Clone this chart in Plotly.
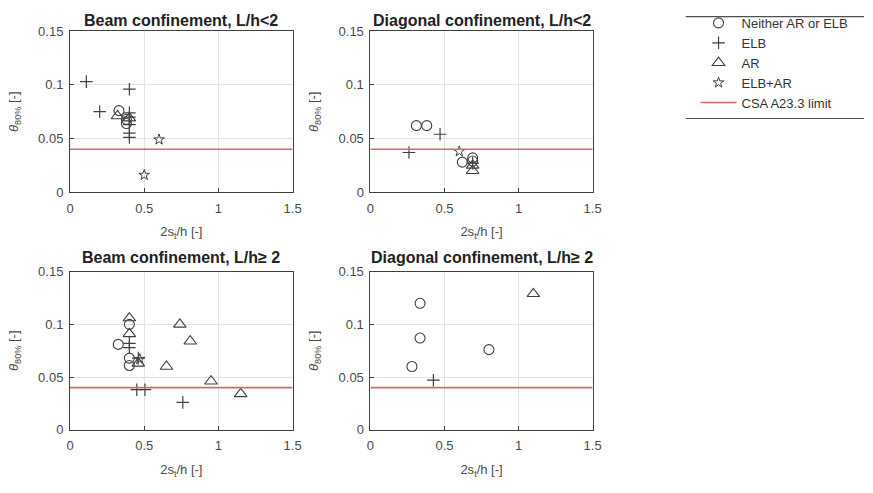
import plotly.graph_objects as go

# ---------------- data ----------------
# Panel 1: Beam confinement, L/h<2
p1_none_x = [0.33, 0.38, 0.38]
p1_none_y = [0.076, 0.064, 0.068]
p1_elb_x = [0.11, 0.20, 0.40, 0.40, 0.40, 0.40, 0.40, 0.40]
p1_elb_y = [0.103, 0.075, 0.096, 0.074, 0.070, 0.063, 0.055, 0.051]
p1_ar_x = [0.32, 0.40]
p1_ar_y = [0.071, 0.069]
p1_elbar_x = [0.60, 0.50]
p1_elbar_y = [0.049, 0.016]

# Panel 2: Diagonal confinement, L/h<2
p2_none_x = [0.31, 0.38, 0.62, 0.69, 0.69]
p2_none_y = [0.062, 0.062, 0.028, 0.032, 0.029]
p2_elb_x = [0.26, 0.47, 0.69]
p2_elb_y = [0.037, 0.054, 0.027]
p2_ar_x = [0.69, 0.69]
p2_ar_y = [0.020, 0.025]
p2_elbar_x = [0.60]
p2_elbar_y = [0.038]

# Panel 3: Beam confinement, L/h>=2
p3_none_x = [0.40, 0.325, 0.40, 0.40]
p3_none_y = [0.100, 0.081, 0.068, 0.061]
p3_elb_x = [0.40, 0.40, 0.46, 0.45, 0.505, 0.76]
p3_elb_y = [0.082, 0.078, 0.068, 0.038, 0.038, 0.026]
p3_ar_x = [0.40, 0.40, 0.74, 0.81, 0.65, 0.46, 0.95, 1.15]
p3_ar_y = [0.106, 0.091, 0.100, 0.084, 0.060, 0.063, 0.046, 0.034]
p3_elbar_x = [0.47]
p3_elbar_y = [0.067]

# Panel 4: Diagonal confinement, L/h>=2
p4_none_x = [0.335, 0.335, 0.28, 0.80]
p4_none_y = [0.120, 0.087, 0.060, 0.076]
p4_elb_x = [0.425]
p4_elb_y = [0.047]
p4_ar_x = [1.10]
p4_ar_y = [0.129]
p4_elbar_x = []
p4_elbar_y = []

limit_x = [0, 1.5]
limit_y = [0.04, 0.04]

series_names = ["Neither AR or ELB", "ELB", "AR", "ELB+AR"]
panel_titles = ["Beam confinement, L/h<2", "Diagonal confinement, L/h<2",
                "Beam confinement, L/h\u2265 2", "Diagonal confinement, L/h\u2265 2"]
x_ticks = [0, 0.5, 1, 1.5]
x_tick_text = ["0", "0.5", "1", "1.5"]
y_ticks = [0, 0.05, 0.1, 0.15]
y_tick_text = ["0", "0.05", "0.1", "0.15"]

panels = [
    [(p1_none_x, p1_none_y), (p1_elb_x, p1_elb_y), (p1_ar_x, p1_ar_y), (p1_elbar_x, p1_elbar_y)],
    [(p2_none_x, p2_none_y), (p2_elb_x, p2_elb_y), (p2_ar_x, p2_ar_y), (p2_elbar_x, p2_elbar_y)],
    [(p3_none_x, p3_none_y), (p3_elb_x, p3_elb_y), (p3_ar_x, p3_ar_y), (p3_elbar_x, p3_elbar_y)],
    [(p4_none_x, p4_none_y), (p4_elb_x, p4_elb_y), (p4_ar_x, p4_ar_y), (p4_elbar_x, p4_elbar_y)],
]

# ---------------- styling ----------------
W, H = 873, 493
FONT = "Liberation Sans, Arial, sans-serif"
mk_color = "#404040"
markers = [
    dict(symbol="circle-open", size=10, color=mk_color, line=dict(width=1.1, color=mk_color)),
    dict(symbol="cross-thin-open", size=9, color=mk_color, line=dict(width=1.2, color=mk_color)),
    dict(symbol="triangle-up-open", size=11, color=mk_color, line=dict(width=1.1, color=mk_color)),
    dict(symbol="star-open", size=8, color=mk_color, line=dict(width=1, color=mk_color)),
]
red = "#d9686a"

xdom = [[67 / W, 293 / W], [372 / W, 597.5 / W]]
ydom = [[1 - 191 / H, 1 - 25 / H], [1 - 436 / H, 1 - 273 / H]]
title_y = [1 - 14 / H, 1 - 258 / H]

fig = go.Figure()
for i, panel in enumerate(panels):
    ax = "" if i == 0 else str(i + 1)
    for j, (xs, ys) in enumerate(panel):
        fig.add_trace(go.Scatter(
            x=xs, y=ys, mode="markers", name=series_names[j],
            marker=markers[j], showlegend=(i == 0),
            xaxis="x" + ax, yaxis="y" + ax, legendrank=j + 1))
    fig.add_trace(go.Scatter(
        x=limit_x, y=limit_y, mode="lines", name="CSA A23.3 limit",
        line=dict(color=red, width=1.6), showlegend=(i == 0),
        xaxis="x" + ax, yaxis="y" + ax, legendrank=5))

axis_common = dict(
    showline=True, mirror=True, linecolor="#404040", linewidth=1,
    showgrid=True, gridcolor="#e3e3e3", gridwidth=1, zeroline=False,
    ticks="inside", ticklen=4, tickcolor="#404040",
    tickfont=dict(family=FONT, size=13, color="#4a4a4a"),
)
layout = dict(
    width=W, height=H, margin=dict(l=0, r=0, t=0, b=0),
    plot_bgcolor="white", paper_bgcolor="white",
    font=dict(family=FONT, color="#333333"),
)
for i in range(4):
    ax = "" if i == 0 else str(i + 1)
    col, row = i % 2, i // 2
    layout["xaxis" + ax] = dict(
        axis_common, domain=xdom[col], range=[0, 1.5],
        tickvals=x_ticks, ticktext=x_tick_text,
        anchor="y" + ax, ticklabelstandoff=4,
        title=dict(text="2s<sub>t</sub>/h [-]", font=dict(family=FONT, size=13, color="#4a4a4a"), standoff=12),
    )
    layout["yaxis" + ax] = dict(
        axis_common, domain=ydom[row], range=[0, 0.15],
        tickvals=y_ticks, ticktext=y_tick_text,
        anchor="x" + ax, ticklabelstandoff=3,
        title=dict(text="<i>θ</i><sub>80%</sub> [-]", font=dict(family=FONT, size=13, color="#4a4a4a"), standoff=16),
    )
fig.update_layout(**layout)

for i in range(4):
    col, row = i % 2, i // 2
    fig.add_annotation(
        text="<b>" + panel_titles[i] + "</b>", xref="paper", yref="paper",
        x=(xdom[col][0] + xdom[col][1]) / 2, y=title_y[row],
        xanchor="center", yanchor="middle", showarrow=False,
        font=dict(family=FONT, size=16, color="#222222"))

# legend with top/bottom rules
fig.update_layout(legend=dict(
    x=702 / W, y=1 - 1 / H, xanchor="left", yanchor="top",
    bgcolor="rgba(0,0,0,0)", borderwidth=0,
    font=dict(family=FONT, size=13, color="#333333"),
    traceorder="normal", itemwidth=36,
))
for yy in [10, 115]:
    fig.add_shape(type="line", xref="paper", yref="paper",
                  x0=692 / W, x1=1, y0=1 - yy / H, y1=1 - yy / H,
                  line=dict(color="#505050", width=1.2))

fig.write_html("out.html")
